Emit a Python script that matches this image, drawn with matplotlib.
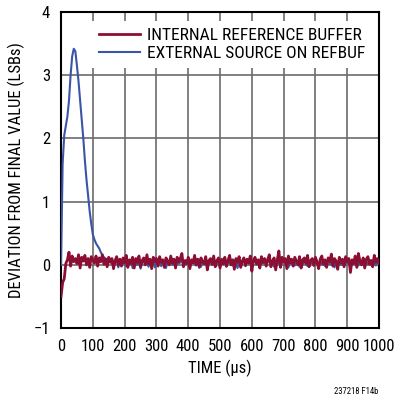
import numpy as np
import matplotlib
matplotlib.use("Agg")
import matplotlib.pyplot as plt

plt.rcParams['font.family'] = ['Roboto Condensed', 'DejaVu Sans']

# time axis, 5 us steps
t = np.arange(0, 1001, 5)

internal = [
    -0.50, -0.28, -0.22, 0.02, 0.08, 0.20, -0.02, 0.14, 0.05, 0.10,
    0.02, 0.16, -0.05, 0.12, 0.06, 0.15, 0.00, 0.10, -0.04, 0.13,
    0.08, 0.03, 0.14, -0.02, 0.11, 0.05, 0.16, 0.01, 0.09, -0.03,
    0.12, 0.04, 0.10, -0.06, 0.07, 0.13, 0.00, 0.09, -0.02, 0.11,
    0.03, 0.15, -0.04, 0.08, 0.02, 0.12, -0.05, 0.10, 0.04, 0.14,
    -0.03, 0.07, 0.11, 0.00, 0.16, 0.02, 0.09, -0.06, 0.12, 0.05,
    0.10, -0.02, 0.13, 0.04, 0.08, -0.04, 0.11, 0.06, 0.00, 0.14,
    0.03, 0.09, -0.05, 0.12, 0.05, 0.10, 0.18, -0.03, 0.07, 0.02,
    0.12, -0.06, 0.08, 0.03, 0.15, 0.00, 0.09, -0.04, 0.11, 0.05,
    0.02, 0.13, -0.08, 0.07, 0.10, 0.01, 0.14, -0.03, 0.06, 0.11,
    -0.05, 0.09, 0.02, 0.12, -0.02, 0.07, 0.15, 0.00, 0.08, -0.07,
    0.10, 0.04, 0.13, -0.04, 0.06, 0.11, -0.01, 0.09, 0.03, 0.14,
    -0.10, 0.07, 0.12, 0.02, 0.08, -0.05, 0.13, 0.04, 0.10, -0.02,
    0.09, 0.16, -0.03, 0.06, 0.11, -0.08, 0.08, 0.22, -0.04, 0.12,
    0.05, 0.10, -0.06, 0.14, 0.03, 0.09, -0.02, 0.12, 0.06, 0.00,
    0.13, -0.05, 0.08, 0.11, 0.02, 0.15, -0.03, 0.07, 0.10, -0.01,
    0.12, 0.04, -0.06, 0.09, 0.14, 0.01, 0.08, -0.04, 0.11, 0.05,
    0.17, -0.02, 0.10, 0.06, -0.07, 0.12, 0.03, 0.09, -0.03, 0.13,
    0.05, 0.10, -0.12, 0.08, 0.02, 0.14, -0.04, 0.18, 0.06, 0.00,
    0.11, -0.05, 0.09, 0.13, 0.01, 0.07, -0.03, 0.15, 0.04, 0.10,
    0.03,
]

external = [
    0.00, 1.60, 2.05, 2.20, 2.35, 2.60, 3.00, 3.30, 3.42, 3.38,
    3.15, 2.90, 2.60, 2.30, 2.00, 1.65, 1.35, 1.10, 0.85, 0.65,
    0.48, 0.40, 0.34, 0.30, 0.26, 0.20, 0.15, 0.12, 0.10, 0.08,
    0.05, 0.07, 0.02, 0.06, 0.03, 0.08, -0.04, 0.05, 0.01, 0.07,
    0.03, -0.02, 0.06, 0.02, 0.08, -0.05, 0.04, 0.07, 0.00, 0.05,
    -0.06, 0.03, 0.06, 0.01, 0.08, -0.03, 0.05, 0.02, 0.07, -0.04,
    0.04, 0.01, 0.07, -0.02, 0.05, 0.03, -0.05, 0.06, 0.02, 0.08,
    0.00, 0.05, -0.03, 0.07, 0.02, 0.04, 0.09, -0.02, 0.05, 0.01,
    0.06, -0.04, 0.03, 0.07, 0.02, -0.01, 0.05, 0.08, -0.03, 0.04,
    0.01, 0.06, -0.05, 0.03, 0.07, 0.00, 0.05, -0.02, 0.08, 0.03,
    -0.04, 0.06, 0.01, 0.05, -0.03, 0.07, 0.02, 0.04, -0.01, 0.06,
    0.03, -0.05, 0.08, 0.01, 0.04, 0.07, -0.02, 0.05, 0.02, 0.06,
    -0.03, 0.04, 0.07, 0.00, 0.05, -0.04, 0.06, 0.02, 0.08, -0.01,
    0.04, 0.13, 0.02, 0.06, -0.03, 0.05, 0.01, 0.07, -0.02, 0.04,
    0.06, 0.00, 0.08, -0.04, 0.05, 0.02, 0.07, -0.01, 0.04, 0.06,
    -0.03, 0.05, 0.01, 0.07, 0.03, -0.02, 0.06, 0.02, 0.05, 0.00,
    0.04, 0.07, -0.03, 0.05, 0.01, 0.06, -0.02, 0.04, 0.08, 0.01,
    0.03, 0.06, -0.04, 0.05, 0.02, 0.07, 0.00, 0.04, -0.02, 0.06,
    0.02, 0.05, -0.03, 0.07, 0.01, 0.04, 0.06, -0.01, 0.05, 0.03,
    0.07, -0.02, 0.04, 0.01, 0.06, 0.00, 0.05, 0.03, -0.01, 0.04,
    0.02,
]

red = '#8C0F33'
blue = '#3A55A6'

fig = plt.figure(figsize=(3.99, 4.04), dpi=100)
ax = fig.add_axes([0.153, 0.188, 0.797, 0.782])

ax.plot(t, external, color=blue, lw=1.5, label='EXTERNAL SOURCE ON REFBUF', zorder=3)
ax.plot(t, internal, color=red, lw=2.0, label='INTERNAL REFERENCE BUFFER', zorder=4)

ax.set_xlim(0, 1000)
ax.set_ylim(-1, 4)
ax.set_xticks(np.arange(0, 1001, 100))
ax.set_yticks(np.arange(-1, 5, 1))
ax.grid(True, color='#6b6b6b', lw=1.2)
ax.set_axisbelow(True)
ax.tick_params(length=0, labelsize=12, pad=8)
for s in ax.spines.values():
    s.set_linewidth(1.5)

ax.set_xlabel('TIME (µs)', fontsize=12, labelpad=4)
ax.set_ylabel('DEVIATION FROM FINAL VALUE (LSBs)', fontsize=12, labelpad=6)

h, l = ax.get_legend_handles_labels()
leg = ax.legend(h[::-1], l[::-1], loc='upper right', bbox_to_anchor=(0.987, 0.981),
                fontsize=12.5, frameon=True,
                fancybox=False, framealpha=1, edgecolor='none', facecolor='white',
                handlelength=2.4, handletextpad=0.4, borderaxespad=0.15,
                labelspacing=0.2, borderpad=0.4)
leg.set_zorder(5)

fig.text(0.947, 0.02, '237218 F14b', fontsize=6.2, ha='right', va='bottom')

fig.savefig('out.png', dpi=100)
